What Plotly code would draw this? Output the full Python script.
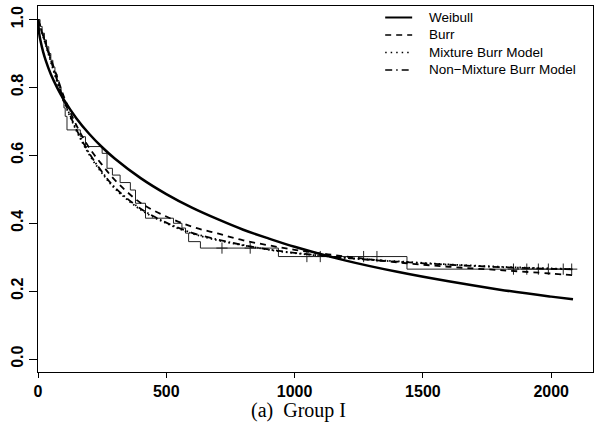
import plotly.graph_objects as go

# ---- data ----
t_grid = [0, 5, 10, 20, 30, 50, 75, 100, 150, 200, 250, 300, 400, 500, 600, 700,
          800, 900, 1000, 1200, 1400, 1600, 1800, 2000, 2085]
weibull = [1.0, 0.958, 0.937, 0.905, 0.880, 0.839, 0.799, 0.765, 0.709, 0.663, 0.624,
           0.590, 0.533, 0.486, 0.446, 0.412, 0.381, 0.355, 0.331, 0.290, 0.257,
           0.229, 0.2045, 0.184, 0.176]
burr = [1.0, 0.988, 0.975, 0.952, 0.93, 0.885, 0.83, 0.775, 0.688, 0.622, 0.572,
        0.527, 0.46, 0.42, 0.39, 0.37, 0.35, 0.335, 0.322, 0.302, 0.285, 0.272,
        0.262, 0.252, 0.247]
mixture = [1.0, 0.988, 0.975, 0.95, 0.925, 0.875, 0.815, 0.76, 0.672, 0.602, 0.547,
           0.502, 0.44, 0.40, 0.37, 0.35, 0.335, 0.322, 0.312, 0.298, 0.288, 0.279,
           0.272, 0.267, 0.265]
non_mixture = [1.0, 0.989, 0.978, 0.953, 0.928, 0.88, 0.82, 0.765, 0.676, 0.606,
               0.551, 0.505, 0.443, 0.402, 0.372, 0.352, 0.336, 0.323, 0.313, 0.298,
               0.287, 0.278, 0.271, 0.266, 0.264]

km_t = [0, 8, 16, 25, 33, 42, 50, 58, 66, 74, 82, 90, 96, 101, 106, 113, 165, 185,
        250, 269, 290, 320, 360, 380, 419, 528, 561, 575, 587, 633, 937, 1438, 2085]
km_s = [1.0, 0.98, 0.96, 0.94, 0.92, 0.90, 0.88, 0.86, 0.84, 0.82, 0.80, 0.78, 0.76,
        0.74, 0.715, 0.675, 0.655, 0.626, 0.606, 0.562, 0.542, 0.52, 0.498, 0.459,
        0.415, 0.40, 0.386, 0.371, 0.346, 0.327, 0.302, 0.265, 0.265]

cens_t = [717, 827, 1048, 1100, 1269, 1321, 1853, 1905, 1950, 1989, 2047, 2080]
cens_s = [0.327, 0.327, 0.302, 0.302, 0.302, 0.302, 0.265, 0.265, 0.265, 0.265,
          0.265, 0.265]

x_ticks = [0, 500, 1000, 1500, 2000]
y_ticks = [0.0, 0.2, 0.4, 0.6, 0.8, 1.0]

legend_labels = ["Weibull", "Burr", "Mixture Burr Model", "Non\u2212Mixture Burr Model"]
legend_dash = ["solid", "6px,5px", "1.5px,4px", "7px,4px,1.5px,4px"]
legend_width = [2, 1.5, 1.5, 1.5]

fig = go.Figure()

fig.add_trace(go.Scatter(x=km_t, y=km_s, mode="lines", line=dict(color="#222", width=1, shape="hv"),
                         showlegend=False, hoverinfo="skip"))
fig.add_trace(go.Scatter(x=cens_t, y=cens_s, mode="markers",
                         marker=dict(symbol="cross-thin", size=8, line=dict(color="#222", width=1)),
                         showlegend=False, hoverinfo="skip"))
fig.add_trace(go.Scatter(x=t_grid, y=burr, mode="lines",
                         line=dict(color="black", width=1.8, dash="6px,5px", shape="spline"),
                         name="Burr", showlegend=False))
fig.add_trace(go.Scatter(x=t_grid, y=mixture, mode="lines",
                         line=dict(color="black", width=1.8, dash="1.5px,3px", shape="spline"),
                         name="Mixture Burr Model", showlegend=False))
fig.add_trace(go.Scatter(x=t_grid, y=non_mixture, mode="lines",
                         line=dict(color="black", width=1.8, dash="7px,3px,1.5px,3px", shape="spline"),
                         name="Non-Mixture Burr Model", showlegend=False))
fig.add_trace(go.Scatter(x=t_grid, y=weibull, mode="lines",
                         line=dict(color="black", width=2.5, shape="spline"),
                         name="Weibull", showlegend=False))

# manual legend (pixel positions converted to paper coords)
L, R, T, B = 37.5, 593.0, 6.0, 372.3
def px(x):
    return (x - L) / (R - L)
def py(y):
    return (B - y) / (B - T)

rows = [17.5, 35.0, 52.5, 70.0]
for lab, d, w, yy in zip(legend_labels, legend_dash, legend_width, rows):
    fig.add_shape(type="line", xref="paper", yref="paper", x0=px(385), x1=px(412),
                  y0=py(yy), y1=py(yy), line=dict(color="black", width=w, dash=d))
    fig.add_annotation(xref="paper", yref="paper", x=px(427), y=py(yy), text=lab,
                       showarrow=False, xanchor="left", yanchor="middle",
                       font=dict(family="Liberation Sans, Arial", size=13.5, color="black"))

fig.add_annotation(xref="paper", yref="paper", x=px(298), y=py(411), text="(a)  Group I",
                   showarrow=False, xanchor="center", yanchor="middle",
                   font=dict(family="Liberation Serif, Times New Roman", size=20, color="black"))

fig.update_layout(
    width=594, height=433,
    margin=dict(l=37.5, r=1, t=6, b=61, autoexpand=False),
    paper_bgcolor="white", plot_bgcolor="white",
    showlegend=False,
)
fig.update_xaxes(range=[0, 2163], tickvals=x_ticks, ticktext=[str(v) for v in x_ticks],
                 automargin=False,
                 showgrid=False, zeroline=False, showline=True, linecolor="black", linewidth=1,
                 mirror=True, ticks="outside", ticklen=5, tickcolor="black",
                 tickfont=dict(family="Liberation Sans, Arial", size=16, color="black", weight="bold"))
fig.update_yaxes(range=[-0.038, 1.040], tickvals=y_ticks, ticktext=[f"{v:.1f}" for v in y_ticks],
                 automargin=False,
                 showgrid=False, zeroline=False, showline=True, linecolor="black", linewidth=1,
                 mirror=True, ticks="outside", ticklen=8, tickcolor="black", tickangle=-90,
                 tickfont=dict(family="Liberation Sans, Arial", size=16, color="black", weight="bold"))

fig.write_html("out.html", config={"displayModeBar": False},
               post_script="document.body.style.margin='0';document.body.style.overflow='hidden';")
